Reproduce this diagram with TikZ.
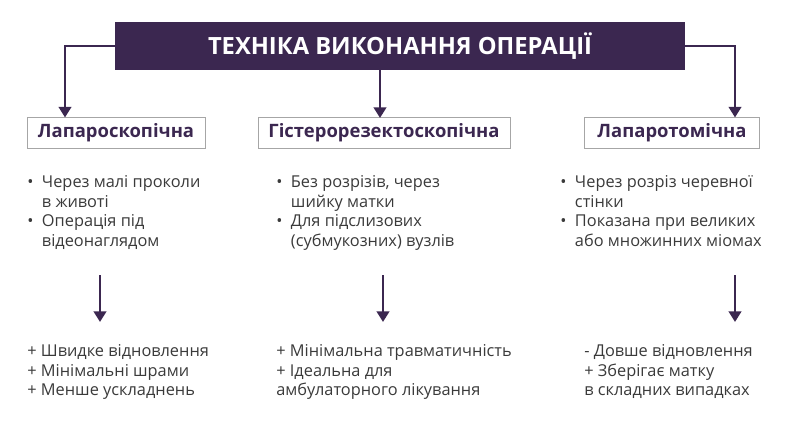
\documentclass[tikz,border=0pt]{standalone}
\usepackage{fontspec}
\setmainfont{Open Sans}
\usetikzlibrary{positioning,arrows.meta}
\definecolor{plum}{HTML}{3B2750}
\definecolor{ink}{HTML}{3A3A3A}
\tikzset{
  link/.style={plum,line width=1.6pt,-{Triangle[length=6pt,width=7pt]}},
  catbox/.style={draw=gray!70,line width=0.5pt,minimum height=0.6cm,inner xsep=5pt,text=plum,font=\fontsize{10.5}{12}\selectfont\bfseries},
  txt/.style={text=ink,font=\fontsize{9.3}{11.2}\selectfont,align=left,inner sep=0pt}
}
\begin{document}
\begin{tikzpicture}[x=0.02cm,y=-0.02cm]
\useasboundingbox (0,0) rectangle (800,429);
\node[fill=plum,text=white,minimum width=11.4cm,minimum height=0.96cm,
  font=\fontsize{13.5}{15}\selectfont\bfseries] (title) at (400,46) {ТЕХНІКА ВИКОНАННЯ ОПЕРАЦІЇ};
\node[catbox,minimum width=3.56cm] (lap) at (116,133) {Лапароскопічна};
\node[catbox,minimum width=5.04cm] (hys) at (384,133) {Гістерорезектоскопічна};
\node[catbox,minimum width=3.5cm] (lpt) at (672,133) {Лапаротомічна};
\coordinate (tl) at (65,46);
\coordinate (tr) at (735,46);
\draw[link] (title.west) -- (tl) -- (tl |- lap.north);
\draw[link] (title.east) -- (tr) -- (tr |- lpt.north);
\draw[link] (title.south -| 380,0) -- (380,118);
% bullets
\node[txt,anchor=north west] (lapb) at (27,175) {•\ \ Через малі проколи\\\phantom{•\ \ }в животі\\•\ \ Операція під\\\phantom{•\ \ }відеонаглядом};
\node[txt,anchor=north west] (hysb) at (276,175) {•\ \ Без розрізів, через\\\phantom{•\ \ }шийку матки\\•\ \ Для підслизових\\\phantom{•\ \ }(субмукозних) вузлів};
\node[txt,anchor=north west] (lptb) at (560,175) {•\ \ Через розріз черевної\\\phantom{•\ \ }стінки\\•\ \ Показана при великих\\\phantom{•\ \ }або множинних міомах};
% outcomes
\coordinate (la) at (100,275);
\coordinate (ha) at (383,275);
\coordinate (ra) at (735,275);
\draw[link] (la) -- ++(0,47);
\draw[link] (ha) -- ++(0,47);
\draw[link] (ra) -- ++(0,47);
\node[txt,anchor=north west] (lapo) at (27,344) {+ Швидке відновлення\\+ Мінімальні шрами\\+ Менше ускладнень};
\node[txt,anchor=north west] (hyso) at (276,344) {+ Мінімальна травматичність\\+ Ідеальна для\\амбулаторного лікування};
\node[txt,anchor=north west] (lpto) at (584,344) {- Довше відновлення\\+ Зберігає матку\\в складних випадках};
\end{tikzpicture}
\end{document}
